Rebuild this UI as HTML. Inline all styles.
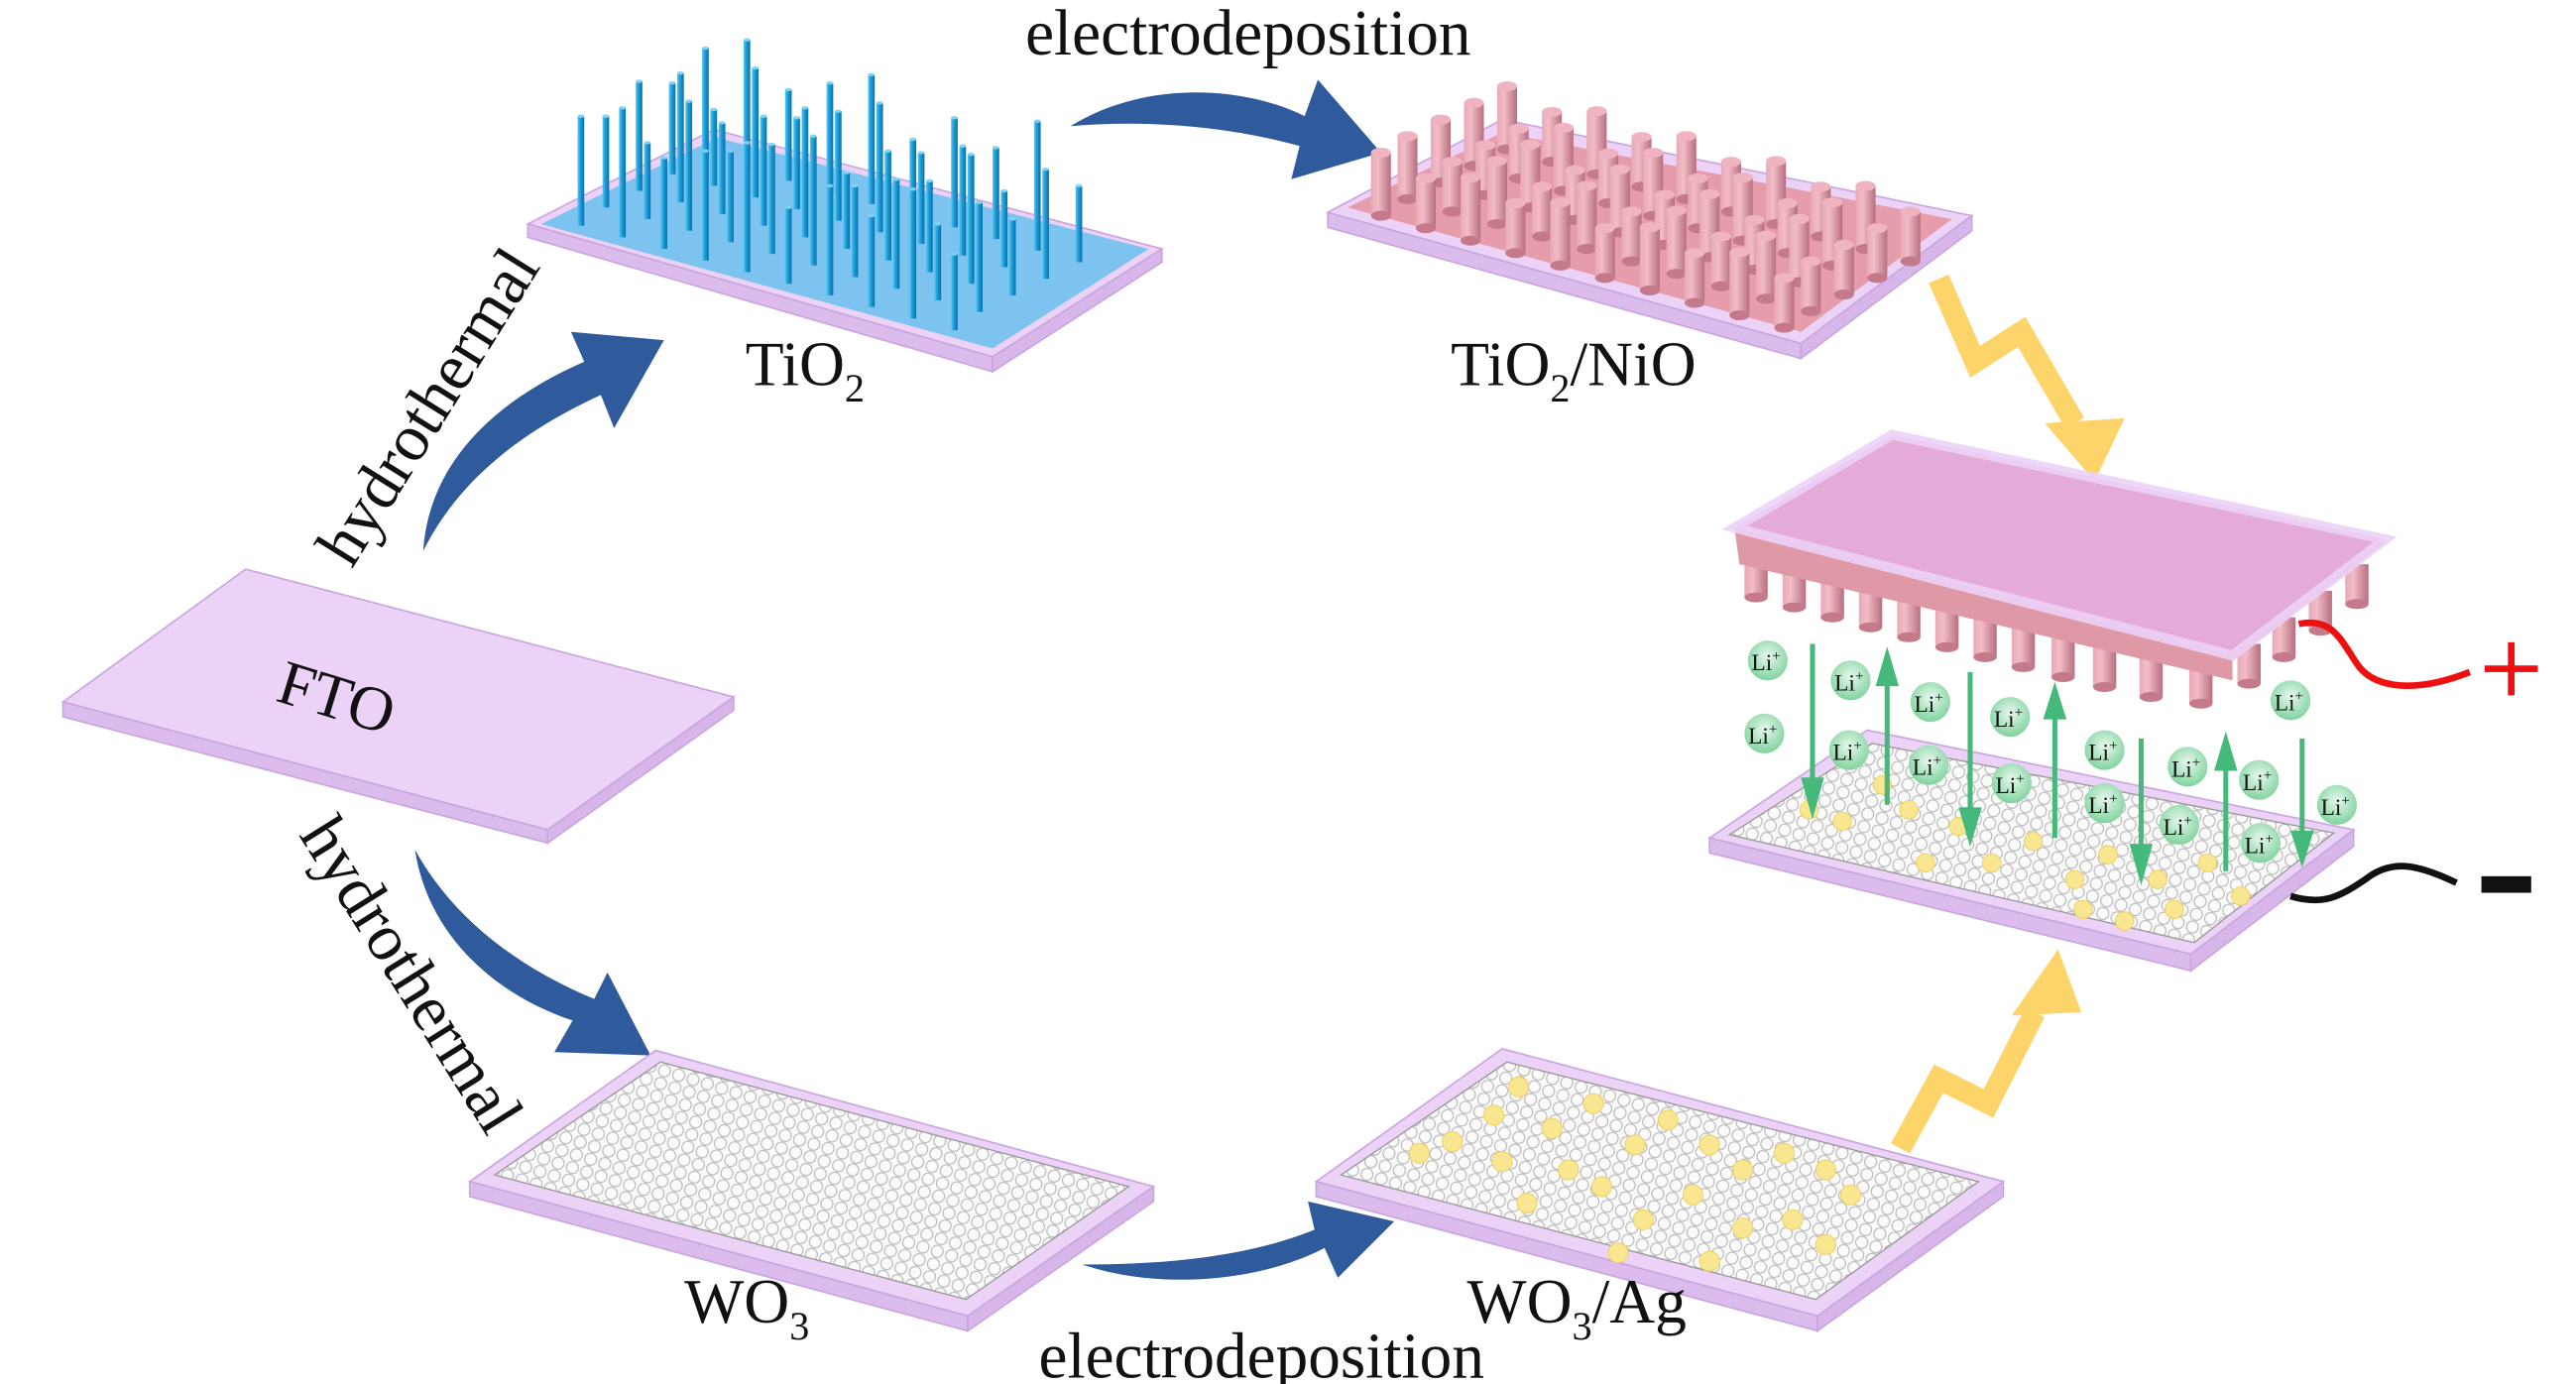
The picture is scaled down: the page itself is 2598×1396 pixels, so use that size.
<!DOCTYPE html>
<html><head><meta charset="utf-8"><style>
html,body{margin:0;padding:0;background:#fff;}
svg{display:block;}
text{font-family:"Liberation Serif",serif;fill:#111;}
</style></head><body>
<svg width="2598" height="1396" viewBox="0 0 1552 834" preserveAspectRatio="none" xmlns="http://www.w3.org/2000/svg" xmlns:xlink="http://www.w3.org/1999/xlink">
<defs>
<pattern id="bub" width="9" height="8" patternUnits="userSpaceOnUse" patternTransform="rotate(17)">
<rect width="9" height="8" fill="#fafafa"/>
<circle cx="4.5" cy="4" r="3.6" fill="none" stroke="#b8b8b8" stroke-width="0.7"/>
</pattern>
<radialGradient id="li" cx="50%" cy="40%" r="60%"><stop offset="0" stop-color="#e8f8ee"/><stop offset="1" stop-color="#7fd39e"/></radialGradient>
<linearGradient id="cg" x1="0" x2="1"><stop offset="0" stop-color="#e9a9b6"/><stop offset="0.35" stop-color="#f2bcc7"/><stop offset="1" stop-color="#b86f80"/></linearGradient>
<linearGradient id="rg" x1="0" x2="1"><stop offset="0" stop-color="#5cc6f0"/><stop offset="0.4" stop-color="#1aa0dc"/><stop offset="1" stop-color="#0b6fa8"/></linearGradient>
<g id="r70"><rect x="-2" y="-55" width="4" height="55" fill="url(#rg)"/><ellipse cx="0" cy="-55" rx="2" ry="1" fill="#7fd4f5"/></g>
<g id="r85"><rect x="-2" y="-66" width="4" height="66" fill="url(#rg)"/><ellipse cx="0" cy="-66" rx="2" ry="1" fill="#7fd4f5"/></g>
<g id="r100"><rect x="-2" y="-78" width="4" height="78" fill="url(#rg)"/><ellipse cx="0" cy="-78" rx="2" ry="1" fill="#7fd4f5"/></g>
<g id="r60"><rect x="-2" y="-46" width="4" height="46" fill="url(#rg)"/><ellipse cx="0" cy="-46" rx="2" ry="1" fill="#7fd4f5"/></g>
<g id="rowA">
<use href="#r85" x="0" y="0"/><use href="#r100" x="25" y="7"/><use href="#r70" x="50" y="14"/><use href="#r85" x="75" y="21"/><use href="#r100" x="100" y="28"/><use href="#r60" x="125" y="35"/><use href="#r85" x="150" y="42"/><use href="#r70" x="175" y="49"/><use href="#r100" x="200" y="56"/><use href="#r60" x="225" y="63"/>
</g>
<g id="rowB">
<use href="#r70" x="0" y="0"/><use href="#r60" x="25" y="7"/><use href="#r100" x="50" y="14"/><use href="#r70" x="75" y="21"/><use href="#r85" x="100" y="28"/><use href="#r100" x="125" y="35"/><use href="#r70" x="150" y="42"/><use href="#r85" x="175" y="49"/><use href="#r60" x="200" y="56"/><use href="#r85" x="225" y="63"/>
</g>
<g id="cy"><rect x="-6" y="-38" width="12" height="38" fill="url(#cg)"/><ellipse cx="0" cy="0" rx="6" ry="3" fill="#c47a8b"/><ellipse cx="0" cy="-38" rx="6" ry="3" fill="#f0b4c0"/></g>
<g id="cy2"><rect x="-6" y="-30" width="12" height="30" fill="url(#cg)"/><ellipse cx="0" cy="0" rx="6" ry="3" fill="#c47a8b"/><ellipse cx="0" cy="-30" rx="6" ry="3" fill="#f0b4c0"/></g>
<g id="crow">
<use href="#cy" x="0" y="0"/><use href="#cy2" x="27" y="7.5"/><use href="#cy" x="54" y="15"/><use href="#cy2" x="81" y="22.5"/><use href="#cy" x="108" y="30"/><use href="#cy2" x="135" y="37.5"/><use href="#cy" x="162" y="45"/><use href="#cy2" x="189" y="52.5"/><use href="#cy" x="216" y="60"/><use href="#cy2" x="243" y="67.5"/>
</g>
<g id="dc"><rect x="-7" y="0" width="14" height="24" fill="url(#cg)"/><ellipse cx="0" cy="24" rx="7" ry="3" fill="#c47a8b"/></g>
</defs>

<!-- FTO -->
<polygon points="38,423 148,343 442,420 330,500" fill="#ecd2f7" stroke="#c9a6df" stroke-width="1"/>
<polygon points="38,423 330,500 330,508 38,432" fill="#dcbcec" stroke="#c9a6df" stroke-width="1"/>
<polygon points="330,500 442,420 442,428 330,508" fill="#d9b6ea" stroke="#c9a6df" stroke-width="1"/>
<text x="203" y="433" font-size="38" transform="rotate(17 203 420)" text-anchor="middle">FTO</text>

<!-- hydrothermal labels -->
<text x="258" y="258" font-size="40" text-anchor="middle" transform="rotate(-58 258 245)">hydrothermal</text>
<text x="247" y="600" font-size="40" text-anchor="middle" transform="rotate(58 247 588)">hydrothermal</text>

<!-- blue arrows -->
<path d="M255,332 C258,285 290,245 352,218 L344,200 L400,205 L370,258 L362,238 C310,262 275,292 255,332 Z" fill="#2f5a9b"/>
<path d="M645,76 C690,48 750,52 786,70 L794,48 L832,92 L778,108 L783,88 C740,76 690,72 645,76 Z" fill="#2f5a9b"/>
<path d="M250,512 C258,565 300,600 345,615 L334,634 L392,636 L366,586 L358,602 C310,582 272,552 250,512 Z" fill="#2f5a9b"/>
<path d="M652,762 C700,778 760,772 798,752 L806,770 L840,736 L788,724 L792,741 C750,758 700,762 652,762 Z" fill="#2f5a9b"/>

<!-- TiO2 plate -->
<polygon points="318,135 430,78 700,150 598,215" fill="#ecd2f7" stroke="#c9a6df"/>
<polygon points="318,135 598,215 598,224 318,143" fill="#dcbcec" stroke="#c9a6df"/>
<polygon points="598,215 700,150 700,158 598,224" fill="#d9b6ea" stroke="#c9a6df"/>
<polygon points="326,135 432,83 692,150 598,210" fill="#7cc3ef"/>
<use href="#rowA" x="425" y="95"/>
<use href="#rowB" x="405" y="105"/>
<use href="#rowA" x="385" y="115"/>
<use href="#rowB" x="365" y="125"/>
<use href="#rowA" x="350" y="136"/>
<text x="485" y="232" font-size="38" text-anchor="middle">TiO<tspan font-size="24" dy="10">2</tspan></text>

<!-- TiO2/NiO plate -->
<polygon points="800,128 905,72 1188,130 1085,207" fill="#ecd2f7" stroke="#c9a6df"/>
<polygon points="800,128 1085,207 1085,216 800,137" fill="#dcbcec" stroke="#c9a6df"/>
<polygon points="1085,207 1188,130 1188,139 1085,216" fill="#d9b6ea" stroke="#c9a6df"/>
<polygon points="812,125 905,80 1176,132 1085,200" fill="#e59cab"/>
<use href="#crow" x="908" y="90"/>
<use href="#crow" x="888" y="100"/>
<use href="#crow" x="868" y="110"/>
<use href="#crow" x="848" y="120"/>
<use href="#crow" x="832" y="130"/>
<text x="948" y="232" font-size="38" text-anchor="middle">TiO<tspan font-size="24" dy="10">2</tspan><tspan dy="-10">/NiO</tspan></text>

<text x="752" y="33" font-size="39" text-anchor="middle">electrodeposition</text>

<!-- yellow zigzags -->
<polyline points="1168,168 1190,218 1218,200 1250,255" fill="none" stroke="#fdd46a" stroke-width="13" stroke-linejoin="miter"/>
<polygon points="1232,255 1280,252 1262,290" fill="#fdd46a"/>
<polyline points="1145,692 1168,650 1198,665 1226,610" fill="none" stroke="#fdd46a" stroke-width="13"/>
<polygon points="1212,612 1254,610 1240,572" fill="#fdd46a"/>

<!-- device bottom plate -->
<polygon points="1030,505 1125,440 1418,500 1320,575" fill="#ecd2f7" stroke="#c9a6df"/>
<polygon points="1030,505 1320,575 1320,585 1030,514" fill="#dcbcec" stroke="#c9a6df"/>
<polygon points="1320,575 1418,500 1418,510 1320,585" fill="#d9b6ea" stroke="#c9a6df"/>
<polygon points="1042,503 1128,448 1406,502 1322,568" fill="url(#bub)" stroke="#999" stroke-width="0.8"/>
<g fill="#f9e690" stroke="#f0d060" stroke-width="0.6">
<circle cx="1134" cy="473" r="5.5"/><circle cx="1150" cy="488" r="5.5"/><circle cx="1110" cy="495" r="5.5"/><circle cx="1180" cy="498" r="5.5"/><circle cx="1200" cy="520" r="5.5"/><circle cx="1225" cy="507" r="5.5"/><circle cx="1250" cy="530" r="5.5"/><circle cx="1270" cy="515" r="5.5"/><circle cx="1300" cy="530" r="5.5"/><circle cx="1330" cy="520" r="5.5"/><circle cx="1310" cy="548" r="5.5"/><circle cx="1280" cy="555" r="5.5"/><circle cx="1255" cy="548" r="5.5"/><circle cx="1160" cy="520" r="5.5"/><circle cx="1090" cy="488" r="5.5"/><circle cx="1350" cy="540" r="5.5"/>
</g>

<!-- device top slab with cylinders -->
<use href="#dc" x="1420" y="340"/><use href="#dc" x="1398" y="356"/><use href="#dc" x="1376" y="372"/><use href="#dc" x="1355" y="388"/>
<use href="#dc" x="1058" y="336"/><use href="#dc" x="1081" y="342"/><use href="#dc" x="1104" y="348"/><use href="#dc" x="1127" y="354"/><use href="#dc" x="1150" y="360"/><use href="#dc" x="1173" y="366"/><use href="#dc" x="1196" y="372"/><use href="#dc" x="1219" y="378"/><use href="#dc" x="1243" y="384"/><use href="#dc" x="1268" y="390"/><use href="#dc" x="1296" y="396"/><use href="#dc" x="1326" y="400"/>
<polygon points="1045,318 1140,268 1437,327 1345,398 1345,410 1048,340" fill="#de98a6"/>
<polygon points="1045,318 1140,262 1437,325 1345,395" fill="#e4aad8"/>
<polygon points="1045,318 1140,262 1437,325 1345,395" fill="none" stroke="#ecd2f7" stroke-width="6" opacity="0.9"/>

<!-- green arrows -->
<g stroke="#45b97a" stroke-width="3" fill="#45b97a">
<line x1="1092" y1="388" x2="1092" y2="475"/><polygon points="1087,470 1097,470 1092,488"/>
<line x1="1137" y1="410" x2="1137" y2="485"/><polygon points="1132,412 1142,412 1137,395"/>
<line x1="1187" y1="405" x2="1187" y2="490"/><polygon points="1182,488 1192,488 1187,505"/>
<line x1="1238" y1="432" x2="1238" y2="505"/><polygon points="1233,432 1243,432 1238,416"/>
<line x1="1290" y1="445" x2="1290" y2="515"/><polygon points="1285,510 1295,510 1290,528"/>
<line x1="1341" y1="462" x2="1341" y2="525"/><polygon points="1336,463 1346,463 1341,446"/>
<line x1="1387" y1="445" x2="1387" y2="505"/><polygon points="1382,502 1392,502 1387,518"/>
</g>

<!-- Li+ -->
<g font-size="14" text-anchor="middle">
<g><circle cx="1065" cy="398" r="12" fill="url(#li)"/><text x="1064" y="404">Li<tspan font-size="9" dy="-6">+</tspan></text></g>
<g><circle cx="1115" cy="410" r="12" fill="url(#li)"/><text x="1114" y="416">Li<tspan font-size="9" dy="-6">+</tspan></text></g>
<g><circle cx="1163" cy="423" r="12" fill="url(#li)"/><text x="1162" y="429">Li<tspan font-size="9" dy="-6">+</tspan></text></g>
<g><circle cx="1211" cy="432" r="12" fill="url(#li)"/><text x="1210" y="438">Li<tspan font-size="9" dy="-6">+</tspan></text></g>
<g><circle cx="1380" cy="422" r="12" fill="url(#li)"/><text x="1379" y="428">Li<tspan font-size="9" dy="-6">+</tspan></text></g>
<g><circle cx="1063" cy="442" r="12" fill="url(#li)"/><text x="1062" y="448">Li<tspan font-size="9" dy="-6">+</tspan></text></g>
<g><circle cx="1114" cy="452" r="12" fill="url(#li)"/><text x="1113" y="458">Li<tspan font-size="9" dy="-6">+</tspan></text></g>
<g><circle cx="1162" cy="461" r="12" fill="url(#li)"/><text x="1161" y="467">Li<tspan font-size="9" dy="-6">+</tspan></text></g>
<g><circle cx="1212" cy="472" r="12" fill="url(#li)"/><text x="1211" y="478">Li<tspan font-size="9" dy="-6">+</tspan></text></g>
<g><circle cx="1268" cy="452" r="12" fill="url(#li)"/><text x="1267" y="458">Li<tspan font-size="9" dy="-6">+</tspan></text></g>
<g><circle cx="1318" cy="462" r="12" fill="url(#li)"/><text x="1317" y="468">Li<tspan font-size="9" dy="-6">+</tspan></text></g>
<g><circle cx="1361" cy="470" r="12" fill="url(#li)"/><text x="1360" y="476">Li<tspan font-size="9" dy="-6">+</tspan></text></g>
<g><circle cx="1408" cy="485" r="12" fill="url(#li)"/><text x="1407" y="491">Li<tspan font-size="9" dy="-6">+</tspan></text></g>
<g><circle cx="1268" cy="484" r="12" fill="url(#li)"/><text x="1267" y="490">Li<tspan font-size="9" dy="-6">+</tspan></text></g>
<g><circle cx="1313" cy="497" r="12" fill="url(#li)"/><text x="1312" y="503">Li<tspan font-size="9" dy="-6">+</tspan></text></g>
<g><circle cx="1362" cy="508" r="12" fill="url(#li)"/><text x="1361" y="514">Li<tspan font-size="9" dy="-6">+</tspan></text></g>
</g>

<!-- wires -->
<path d="M1385,376 C1405,372 1410,385 1420,400 C1430,415 1455,418 1488,405" fill="none" stroke="#ee1010" stroke-width="4"/>
<rect x="1497" y="401" width="32" height="4" fill="#ee1010"/><rect x="1511" y="387" width="4" height="32" fill="#ee1010"/>
<path d="M1380,540 C1400,546 1410,540 1425,530 C1440,518 1455,520 1480,532" fill="none" stroke="#111" stroke-width="4"/>
<rect x="1495" y="528" width="30" height="10" fill="#111"/>

<!-- WO3 plate -->
<polygon points="283,712 395,633 695,715 583,793" fill="#ecd2f7" stroke="#c9a6df"/>
<polygon points="283,712 583,793 583,802 283,721" fill="#dcbcec" stroke="#c9a6df"/>
<polygon points="583,793 695,715 695,724 583,802" fill="#d9b6ea" stroke="#c9a6df"/>
<polygon points="298,708 398,640 680,715 582,783" fill="url(#bub)" stroke="#999" stroke-width="0.8"/>
<text x="450" y="797" font-size="38" text-anchor="middle">WO<tspan font-size="24" dy="10">3</tspan></text>

<!-- WO3/Ag plate -->
<polygon points="793,712 905,632 1207,712 1095,793" fill="#ecd2f7" stroke="#c9a6df"/>
<polygon points="793,712 1095,793 1095,802 793,721" fill="#dcbcec" stroke="#c9a6df"/>
<polygon points="1095,793 1207,712 1207,721 1095,802" fill="#d9b6ea" stroke="#c9a6df"/>
<polygon points="808,708 908,640 1192,712 1094,783" fill="url(#bub)" stroke="#999" stroke-width="0.8"/>
<g fill="#f9e690" stroke="#f0d060" stroke-width="0.6">
<circle cx="915" cy="655" r="6"/><circle cx="900" cy="672" r="6"/><circle cx="935" cy="680" r="6"/><circle cx="960" cy="665" r="6"/><circle cx="875" cy="688" r="6"/><circle cx="855" cy="695" r="6"/><circle cx="905" cy="700" r="6"/><circle cx="945" cy="705" r="6"/><circle cx="985" cy="690" r="6"/><circle cx="1005" cy="675" r="6"/><circle cx="1030" cy="690" r="6"/><circle cx="1050" cy="705" r="6"/><circle cx="1075" cy="695" r="6"/><circle cx="1100" cy="705" r="6"/><circle cx="1115" cy="720" r="6"/><circle cx="1020" cy="720" r="6"/><circle cx="990" cy="735" r="6"/><circle cx="1050" cy="740" r="6"/><circle cx="1080" cy="735" r="6"/><circle cx="1100" cy="750" r="6"/><circle cx="1030" cy="760" r="6"/><circle cx="965" cy="715" r="6"/><circle cx="920" cy="725" r="6"/><circle cx="975" cy="755" r="6"/>
</g>
<text x="950" y="797" font-size="38" text-anchor="middle">WO<tspan font-size="24" dy="10">3</tspan><tspan dy="-10">/Ag</tspan></text>

<text x="760" y="830" font-size="39" text-anchor="middle">electrodeposition</text>
</svg>
</body></html>
